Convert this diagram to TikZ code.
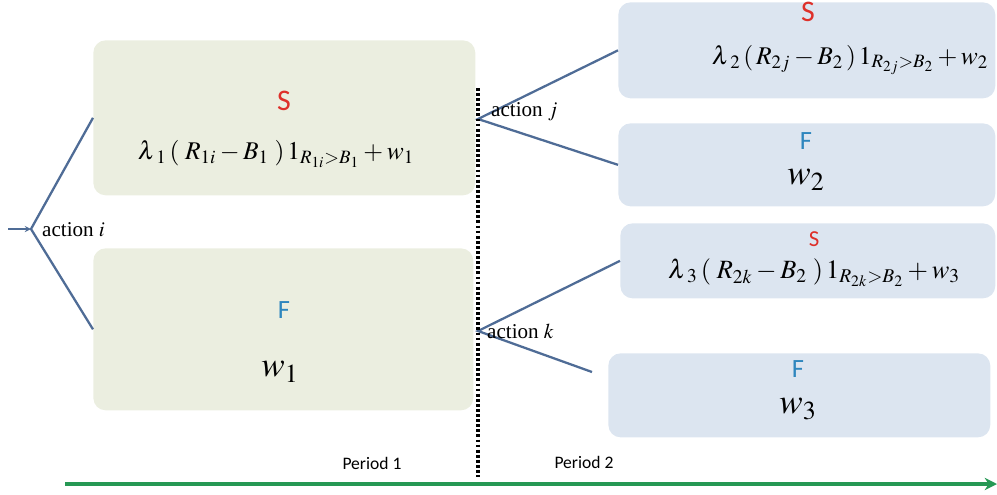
\documentclass[tikz,border=0pt]{standalone}
\usepackage{mathptmx}
\usepackage[no-math]{fontspec}
\setmainfont{Liberation Serif}
\newfontfamily\carlito{Carlito}
\usetikzlibrary{arrows.meta}

\definecolor{boxgreen}{RGB}{235,238,224}
\definecolor{boxblue}{RGB}{220,229,240}
\definecolor{branchcol}{RGB}{79,108,150}
\definecolor{redS}{RGB}{222,48,42}
\definecolor{blueF}{RGB}{46,134,190}
\definecolor{timegreen}{RGB}{38,152,84}

\newcommand{\lam}[1]{\lambda\mkern1mu{}_{#1}}

\tikzset{
  stagebox/.style={rounded corners=7pt, inner sep=0pt, anchor=north west},
  branch/.style={draw=branchcol, line width=1.3pt},
  sname/.style={text=redS, inner sep=1pt, font=\carlito\fontsize{17}{19}\selectfont},
  fname/.style={text=blueF, inner sep=1pt, font=\carlito\fontsize{15}{17}\selectfont},
  payoff/.style={font=\fontsize{14.5}{16}\selectfont},
  wage/.style={inner sep=1pt, font=\fontsize{20}{24}\selectfont},
  actlabel/.style={anchor=west, font=\fontsize{12}{14}\selectfont},
  period/.style={font=\carlito\fontsize{10}{12}\selectfont}
}

\begin{document}
\begin{tikzpicture}[x=0.02cm, y=-0.02cm]
  \useasboundingbox (0,0) rectangle (997,494);

  % boxes of period 1
  \node[stagebox, fill=boxgreen, minimum width=7.64cm, minimum height=3.1cm] (s1) at (93,40) {};
  \node[stagebox, fill=boxgreen, minimum width=7.6cm, minimum height=3.24cm] (f1) at (93,248) {};

  % boxes of period 2
  \node[stagebox, fill=boxblue, minimum width=7.54cm, minimum height=1.92cm] (s2) at (618,2) {};
  \node[stagebox, fill=boxblue, minimum width=7.54cm, minimum height=1.66cm] (f2) at (618,123) {};
  \node[stagebox, fill=boxblue, minimum width=7.5cm, minimum height=1.5cm] (s3) at (620,223) {};
  \node[stagebox, fill=boxblue, minimum width=7.64cm, minimum height=1.68cm] (f3) at (608,353) {};

  % texts in the boxes
  \node[sname] (s1name) at (284,101) {S};
  \node[payoff] (s1pay) at (276,154) {$\lam{1}\,(\;R_{1i}-B_1\;)\,1_{R_{1i}>B_1}+w_1$};
  \node[fname] (f1name) at (284,310) {F};
  \node[wage] (f1pay) at (280,372) {$w_1$};

  \node[sname] (s2name) at (808,12) {S};
  \node[payoff] (s2pay) at (850,60) {$\lam{2}\,(\,R_{2j}-B_2\,)\,1_{R_{2j}>B_2}+w_2$};
  \node[fname] (f2name) at (806,141) {F};
  \node[wage] (f2pay) at (806,180) {$w_2$};

  \node[sname, font=\carlito\fontsize{13}{15}\selectfont] (s3name) at (814,239) {S};
  \node[payoff, font=\fontsize{15}{17}\selectfont] (s3pay) at (814,273) {$\lam{3}\,(\;R_{2k}-B_2\;)\,1_{R_{2k}>B_2}+w_3$};
  \node[fname] (f3name) at (798,369) {F};
  \node[wage] (f3pay) at (798,409) {$w_3$};

  % decision points
  \coordinate (rooti) at (31,229);
  \coordinate (rootj) at (478,119);
  \coordinate (rootk) at (478,331);
  \coordinate (lead) at (8,229);
  \coordinate (kfail) at (592,372);

  \draw[branch, line width=0.6pt, -stealth] (lead) -- (rooti);
  \draw[branch] (s1.west) -- (rooti) -- (f1.west);
  \draw[branch] (s2.west) -- (rootj) -- (f2.west);
  \draw[branch] (s3.west) -- (rootk) -- (kfail);

  \node[actlabel] (acti) at (36,230) {action $i$};
  \node[actlabel] (actj) at (485,112) {action $j$};
  \node[actlabel] (actk) at (481,331) {action $k$};

  % period split and time axis
  \coordinate (splittop) at (478,88);
  \coordinate (splitbot) at (478,477);
  \draw[line width=1.9pt, dash pattern=on 1.6pt off 1.3pt] (splittop) -- (splitbot);

  \node[period] (p1) at (372,463) {Period 1};
  \node[period] (p2) at (584,462) {Period 2};

  \coordinate (tstart) at (65,484);
  \coordinate (tend) at (997,484);
  \draw[timegreen, line width=2.2pt, -{Stealth[length=7pt, width=7pt]}] (tstart) -- (tend);
\end{tikzpicture}
\end{document}
